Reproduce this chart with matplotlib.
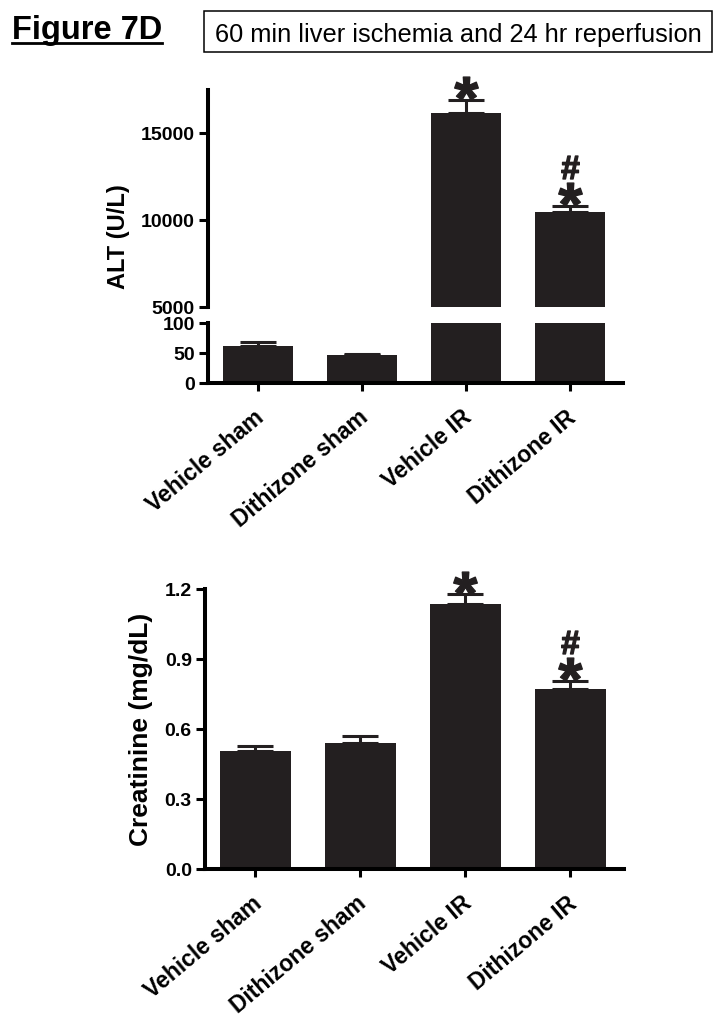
import numpy as np
import matplotlib
matplotlib.use("Agg")
import matplotlib.pyplot as plt
from matplotlib.patches import Rectangle
from matplotlib.lines import Line2D
from matplotlib.textpath import TextPath
from matplotlib.path import Path
from matplotlib.font_manager import FontProperties
from matplotlib.transforms import offset_copy, ScaledTranslation

plt.rcParams["font.family"] = ["Liberation Sans", "DejaVu Sans"]
plt.rcParams["font.weight"] = "bold"

# data (mean, upper SEM)
groups = ["Vehicle sham", "Dithizone sham", "Vehicle IR", "Dithizone IR"]
alt_mean = [61, 46, 16200, 10450]
alt_sem = [8, 3, 750, 380]
creat_mean = [0.504, 0.542, 1.136, 0.773]
creat_sem = [0.024, 0.029, 0.041, 0.034]
star_marks = [False, False, True, True]   # * vs vehicle sham
hash_marks = [False, False, False, True]  # # vs vehicle IR

alt_hi_ticks = [5000, 10000, 15000]
alt_lo_ticks = [0, 50, 100]
creat_ticks = [0.0, 0.3, 0.6, 0.9, 1.2]

BAR = "#231f20"
LW = 2.9
W, H = 724, 1022


def px_rect(l, t, r, b):
    return [l / W, 1 - b / H, (r - l) / W, (b - t) / H]


def glyph_marker(ch):
    tp = TextPath((0, 0), ch, prop=FontProperties(family="Liberation Sans", weight="bold"))
    v = tp.vertices.copy()
    keep = tp.codes != Path.CLOSEPOLY
    c = (v[keep].min(axis=0) + v[keep].max(axis=0)) / 2
    v = v - c
    v[~keep] = 0
    return Path(v, tp.codes)


STAR = glyph_marker("*")
HASH = glyph_marker("#")

fig = plt.figure(figsize=(7.24, 10.22), dpi=100)

ax_hi = fig.add_axes(px_rect(208, 90, 623, 307))
ax_lo = fig.add_axes(px_rect(208, 323, 623, 383))
ax_cr = fig.add_axes(px_rect(205, 589, 624, 869))

x = np.arange(len(groups))


def draw_bars(ax, mean, sem):
    ax.bar(x, mean, width=0.67, color=BAR, zorder=2)
    ax.errorbar(x, mean, yerr=[np.zeros(len(mean)), sem], fmt="none",
                ecolor=BAR, elinewidth=2.2, capsize=13, capthick=2.2, zorder=1)
    ax.set_xlim(-0.48, 3.51)
    for s in ["top", "right"]:
        ax.spines[s].set_visible(False)
    for s in ["left", "bottom"]:
        ax.spines[s].set_linewidth(LW)
    ax.tick_params(axis="y", length=6.5, width=2.2, labelsize=14, pad=3)
    ax.tick_params(axis="x", length=6, width=2.2, labelsize=16.5, pad=10.5)


def add_marks(ax, mean, sem):
    tops = np.array(mean) + np.array(sem)
    for i in range(len(groups)):
        if star_marks[i]:
            tr = offset_copy(ax.transData, fig=fig, y=8.5, units="points")
            ax.plot(x[i], tops[i], marker=STAR, markersize=17, color=BAR,
                    transform=tr, clip_on=False, linestyle="none")
        if hash_marks[i]:
            tr = offset_copy(ax.transData, fig=fig, y=28, units="points")
            ax.plot(x[i], tops[i], marker=HASH, markersize=16.5, color=BAR,
                    transform=tr, clip_on=False, linestyle="none")


def set_xlabels(ax):
    ax.set_xticks(x)
    ax.set_xticklabels(groups, rotation=40, ha="right", va="top",
                       rotation_mode="anchor", fontweight="bold")
    shift = ScaledTranslation(-3 / 72, 0, fig.dpi_scale_trans)
    for lbl in ax.get_xticklabels():
        lbl.set_transform(lbl.get_transform() + shift)


# ALT, broken axis
draw_bars(ax_hi, alt_mean, alt_sem)
ax_hi.set_ylim(5000, 17500)
ax_hi.set_yticks(alt_hi_ticks)
ax_hi.spines["bottom"].set_visible(False)
ax_hi.set_xticks([])
add_marks(ax_hi, alt_mean, alt_sem)

draw_bars(ax_lo, alt_mean, alt_sem)
ax_lo.set_ylim(0, 100)
ax_lo.set_yticks(alt_lo_ticks)
set_xlabels(ax_lo)

fig.text(118 / W, 1 - 236.5 / H, "ALT (U/L)", rotation=90, ha="center",
         va="center", fontsize=17, fontweight="bold")

# creatinine
draw_bars(ax_cr, creat_mean, creat_sem)
ax_cr.set_ylim(0, 1.2)
ax_cr.set_yticks(creat_ticks)
ax_cr.set_yticklabels([f"{t:.1f}" for t in creat_ticks])
set_xlabels(ax_cr)
add_marks(ax_cr, creat_mean, creat_sem)

fig.text(141 / W, 1 - 729 / H, "Creatinine (mg/dL)", rotation=90, ha="center",
         va="center", fontsize=19, fontweight="bold")

# header
t = fig.text(12 / W, 1 - 39 / H, "Figure 7D", fontsize=23.5, fontweight="bold",
             ha="left", va="baseline")
r = fig.canvas.get_renderer()
bb = t.get_window_extent(r)
fig.add_artist(Line2D([bb.x0 / W, bb.x1 / W],
                      [1 - 43 / H, 1 - 43 / H], transform=fig.transFigure,
                      color="black", linewidth=2))

fig.add_artist(Rectangle((204 / W, 1 - 52 / H), (712 - 204) / W, 41 / H,
                         transform=fig.transFigure, fill=False,
                         edgecolor="black", linewidth=1.1))
fig.text(215 / W, 1 - 42 / H, "60 min liver ischemia and 24 hr reperfusion",
         fontsize=18.3, fontweight="normal", ha="left", va="baseline")

fig.savefig("out.png", dpi=100)
